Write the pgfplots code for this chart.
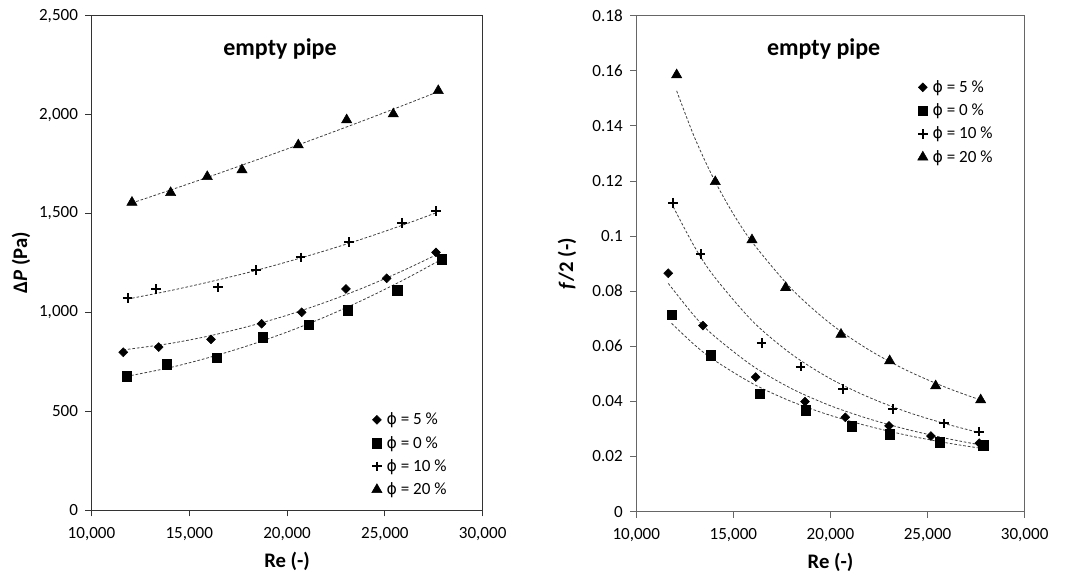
\documentclass[border=0pt]{standalone}
\usepackage{fontspec}
\setmainfont{Carlito}
\newfontfamily\phifont{DejaVu Sans}[Scale=0.92]
\usepackage{pgfplots}
\pgfplotsset{compat=1.18}

\newcommand\ticksize{\fontsize{12.8}{15}\selectfont}
\newcommand\titlesize{\fontsize{18}{21}\selectfont\bfseries}
\newcommand\labelsize{\fontsize{15.5}{18}\selectfont\bfseries}
\newcommand\vphi{{\phifont ϕ}}

\pgfplotsset{
  panel/.style={
    scale only axis,
    anchor=south west,
    xmin=10000, xmax=30000,
    xtick={10000,15000,20000,25000,30000},
    scaled x ticks=false,
    axis line style={black!80, line width=0.6pt},
    tick style={black!80, line width=0.6pt},
    tick align=outside,
    xtick pos=bottom, ytick pos=left,
    major tick length=4.8pt,
    ticklabel style={font=\ticksize, black},
    /pgf/number format/assume math mode=true,
    xticklabel style={yshift=-4.5pt, /pgf/number format/.cd, 1000 sep={,}},
    yticklabel style={xshift=-1.8pt},
    xlabel={Re (-)},
    xlabel style={font=\labelsize, at={(rel axis cs:0.5,-0.103)}, anchor=center},
    clip=false,
    legend cell align=left,
    legend style={draw=none, fill=none, font=\ticksize, inner sep=0pt,
      row sep=7pt, column sep=2pt, anchor=north west,
      nodes={inner xsep=1.5pt, inner ysep=0pt}},
  },
  pts/.style={only marks, black,
    legend image code/.code={\draw[##1] plot coordinates {(0pt,0pt)};}},
  mdia/.style={pts, mark=square*, mark size=2.35pt, mark options={rotate=45}},
  msq/.style={pts, mark=square*, mark size=3.5pt},
  mplus/.style={pts, mark=+, mark size=3.6pt, mark options={line width=1.5pt}},
  mtri/.style={pts, mark=triangle*, mark size=4.4pt},
  trend/.style={no markers, smooth, forget plot, black!75, line width=0.6pt,
    dash pattern=on 2pt off 1.4pt},
}

\begin{document}
\begin{tikzpicture}
\useasboundingbox (0pt,0pt) rectangle (798.75pt,432.75pt);

% pressure drop against Reynolds number
\begin{axis}[panel,
  at={(68.6pt,50.25pt)}, width=293.4pt, height=370.7pt,
  ymin=0, ymax=2500, ytick={0,500,1000,1500,2000,2500},
  scaled y ticks=false,
  yticklabel style={/pgf/number format/.cd, 1000 sep={,}},
  ylabel={Δ\textit{P} (Pa)},
  ylabel style={font=\labelsize, at={(rel axis cs:-0.18,0.5)}, anchor=center},
  legend style={at={(rel axis cs:0.716,0.197)}},
]
\addplot[mdia] coordinates {(11626,798) (13436,824) (16109,863) (18701,942) (20746,1000) (23011,1118) (25092,1172) (27612,1303)};
\addplot[msq] coordinates {(11800,676) (13845,737) (16401,770) (18753,873) (21120,936) (23098,1011) (25634,1111) (27919,1268)};
\addplot[mplus] coordinates {(11851,1071) (13297,1118) (16483,1126) (18410,1214) (20695,1278) (23165,1354) (25890,1453) (27612,1511)};
\addplot[mtri] coordinates {(12070,1556) (14049,1605) (15920,1686) (17695,1720) (20573,1846) (23047,1973) (25430,2003) (27730,2121)};
% quadratic trend lines
\addplot[trend] coordinates {(11630,810) (14000,842) (16000,880) (18000,928) (20000,985) (22000,1052) (24000,1128) (26000,1214) (27610,1290)};
\addplot[trend] coordinates {(11800,676) (14000,720) (16000,771) (18000,831) (20000,900) (22000,979) (24000,1068) (26000,1166) (27920,1269)};
\addplot[trend] coordinates {(11850,1067) (14000,1109) (16000,1153) (18000,1201) (20000,1255) (22000,1313) (24000,1376) (26000,1444) (27610,1503)};
\addplot[trend] coordinates {(12070,1553) (14000,1617) (16000,1685) (18000,1755) (20000,1826) (22000,1899) (24000,1973) (26000,2049) (27730,2116)};
\legend{\vphi{} = 5 \%, \vphi{} = 0 \%, \vphi{} = 10 \%, \vphi{} = 20 \%}
\node[font=\titlesize, anchor=base] at (rel axis cs:0.482,0.920) {empty pipe};
\end{axis}

% half friction factor against Reynolds number
\begin{axis}[panel,
  at={(477.2pt,49.1pt)}, width=291.3pt, height=371.9pt,
  axis line style={black!60}, tick style={black!60},
  ymin=0, ymax=0.18, ytick={0,0.02,0.04,0.06,0.08,0.1,0.12,0.14,0.16,0.18},
  scaled y ticks=false,
  yticklabel style={/pgf/number format/.cd, fixed, precision=2},
  ylabel={\textit{f}/2 (-)},
  ylabel style={font=\labelsize, at={(rel axis cs:-0.178,0.5)}, anchor=center},
  legend style={at={(rel axis cs:0.724,0.870)}},
]
\addplot[mdia] coordinates {(11648,0.0865) (13435,0.0675) (16148,0.0488) (18687,0.0399) (20762,0.0342) (23013,0.0311) (25175,0.0274) (27662,0.0248)};
\addplot[msq] coordinates {(11823,0.0714) (13847,0.0567) (16370,0.0427) (18739,0.0367) (21092,0.0310) (23064,0.0281) (25639,0.0251) (27868,0.0241)};
\addplot[mplus] coordinates {(11905,0.1121) (13316,0.0934) (16457,0.0611) (18466,0.0526) (20659,0.0444) (23203,0.0372) (25860,0.0320) (27662,0.0290)};
\addplot[mtri] coordinates {(12080,0.1585) (14068,0.1197) (15958,0.0986) (17693,0.0813) (20541,0.0643) (23048,0.0547) (25417,0.0456) (27734,0.0405)};
% power-law trend lines
\addplot[trend] coordinates {(11650,0.0828) (13000,0.0709) (14000,0.0638) (16000,0.0528) (18000,0.0446) (20000,0.0384) (22000,0.0336) (24000,0.0297) (26000,0.0265) (27700,0.0242)};
\addplot[trend] coordinates {(11820,0.0683) (13000,0.0605) (14000,0.0550) (16000,0.0464) (18000,0.0399) (20000,0.0349) (22000,0.0309) (24000,0.0276) (26000,0.0249) (27900,0.0228)};
\addplot[trend] coordinates {(11905,0.1106) (13000,0.0961) (14000,0.0854) (16000,0.0690) (18000,0.0571) (20000,0.0482) (22000,0.0414) (24000,0.0360) (26000,0.0317) (27700,0.0286)};
\addplot[trend] coordinates {(12080,0.1527) (13000,0.1358) (14000,0.1206) (15000,0.1080) (16000,0.0975) (18000,0.0808) (20000,0.0682) (22000,0.0586) (24000,0.0510) (26000,0.0449) (27800,0.0403)};
\legend{\vphi{} = 5 \%, \vphi{} = 0 \%, \vphi{} = 10 \%, \vphi{} = 20 \%}
\node[font=\titlesize, anchor=base] at (rel axis cs:0.4825,0.920) {empty pipe};
\end{axis}
\end{tikzpicture}
\end{document}
